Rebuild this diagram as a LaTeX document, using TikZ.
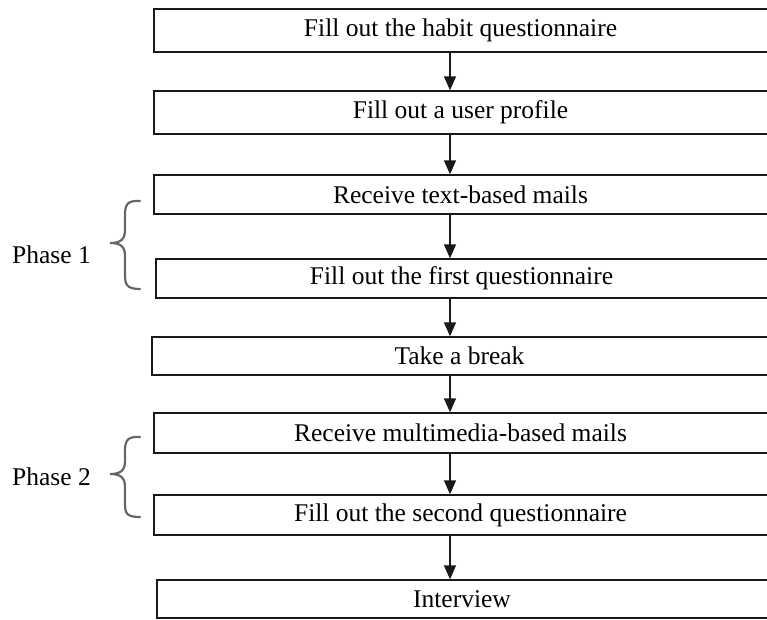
\documentclass[tikz,border=0pt]{standalone}
\usepackage{fontspec}
\setmainfont{Liberation Serif}
\usetikzlibrary{arrows.meta}
\begin{document}
\begin{tikzpicture}[x=1pt,y=-1pt,
  stepbox/.style={draw=none,inner sep=0pt,font=\fontsize{25.5}{30}\selectfont},
  phaselabel/.style={inner sep=0pt,font=\fontsize{25.5}{30}\selectfont,anchor=west},
  boxline/.style={line width=1.8pt,black!90},
  arr/.style={line width=1.5pt,black!90,-{Triangle[length=14pt,width=12pt]},shorten >=0.5pt},
  bracestyle/.style={line width=2.2pt,black!60,line cap=round}]
\useasboundingbox (0,0) rectangle (767,619);
\coordinate (ax) at (450,0);
% boxes: left, top, bottom
\foreach \n/\l/\t/\b/\txt in {
  b1/154/9/52/{Fill out the habit questionnaire},
  b2/154/91/134/{Fill out a user profile},
  b3/154/175/214/{Receive text-based mails},
  b4/156/259/298/{Fill out the first questionnaire},
  b5/152/337/375/{Take a break},
  b6/154/413/453/{Receive multimedia-based mails},
  b7/154/495/535/{Fill out the second questionnaire},
  b8/157/580/618/{Interview}}{
  \node[stepbox,minimum width={767-\l},minimum height={\b-\t}] (\n) at ({(\l+767)/2},{(\t+\b)/2}) {\txt};
  \draw[boxline] ([xshift=8pt]\n.north east) -- (\n.north west) -- (\n.south west) -- ([xshift=8pt]\n.south east);
}
\foreach \a/\c in {b1/b2,b2/b3,b3/b4,b4/b5,b5/b6,b6/b7,b7/b8}{
  \draw[arr] (\a.south -| ax) -- (\c.north -| ax);
}
% phase labels
\node[phaselabel] (p1) at (12,255) {Phase 1};
\node[phaselabel] (p2) at (12,477) {Phase 2};
% braces
\draw[bracestyle] (140,201) .. controls (126,200) and (125,206) .. (125,216) -- (125,230)
  .. controls (125,240) and (120,243) .. (110,243)
  .. controls (120,243) and (125,246) .. (125,256) -- (125,274)
  .. controls (125,284) and (126,289) .. (140,289);
\draw[bracestyle] (140,437) .. controls (126,436) and (125,442) .. (125,452) -- (125,461)
  .. controls (125,471) and (120,474) .. (110,474)
  .. controls (120,474) and (125,477) .. (125,487) -- (125,503)
  .. controls (125,513) and (126,517) .. (140,517);
\end{tikzpicture}
\end{document}
